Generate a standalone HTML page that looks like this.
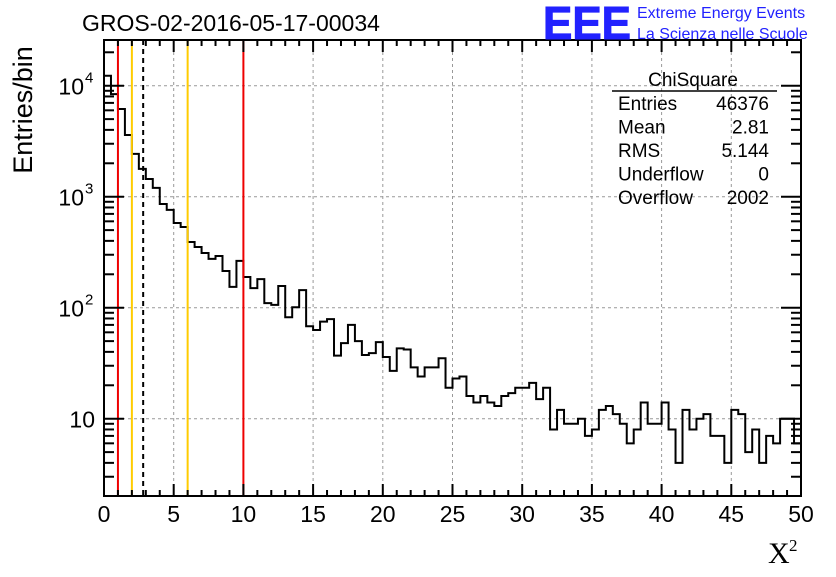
<!DOCTYPE html>
<html><head><meta charset="utf-8"><style>
body{margin:0;background:#fff;width:836px;height:572px;overflow:hidden;font-family:"Liberation Sans",sans-serif}
</style></head><body>
<svg id="c" width="836" height="572" font-family="Liberation Sans, sans-serif"></svg>
<script>
const binEdgesMin = 0, binWidth = 0.5;
const counts = [12300,8400,6170,3600,2430,1780,1445,1200,860,760,580,533,391,352,311,275,292,214,154,264,189,150,181,110,106,157,82,101,144,68,63,75,79,37,48,70,50,37.5,39,49,36,27,43,42,29,24,29,29,35,19,23,24,16,14,16,14,13,16,17,19,19,21,15,19,8,12,9,9,10,7,8,12,13,11,9,6,8,14,9,9,14,8,4,12,8,10,11,7,7,4,12,11,5,8,4,7,6,10,10,6];
const xTickLabels = [0,5,10,15,20,25,30,35,40,45,50];
const yDecades = [10,100,1000,10000];
const yTickBase = ["10","10","10","10"];
const yTickExp = ["","2","3","4"];
const redLines = [1,10];
const orangeLines = [2,6];
const meanLine = [2.81];
const statsNames = ["Entries","Mean","RMS","Underflow","Overflow"];
const statsVals = ["46376","2.81","5.144","0","2002"];

const L=104,R=801,T=40,B=496;
const X=v=>L+(v-0)/50*(R-L);
const Y=v=>418.7-(Math.log10(v)-1)*111;
const svg=document.getElementById('c');
const NS='http://www.w3.org/2000/svg';
function mk(t,a,txt,p){const e=document.createElementNS(NS,t);for(const k in a)e.setAttribute(k,a[k]);if(txt!==undefined)e.textContent=txt;(p||svg).appendChild(e);return e;}

xTickLabels.forEach(v=>{if(v>0&&v<50){const g=mk('line',{x1:X(v),x2:X(v),y1:T,y2:B,stroke:'#999','stroke-dasharray':'3,3','stroke-width':1});

}});
yDecades.forEach(v=>{const g=mk('line',{x1:L,x2:R,y1:Y(v),y2:Y(v),stroke:'#999','stroke-dasharray':'3,3','stroke-width':1});

});

let d='';
counts.forEach((c,i)=>{const x0=X(binEdgesMin+i*binWidth),x1=X(binEdgesMin+(i+1)*binWidth),y=Y(c);
d+=(i===0?`M${x0},${B}L${x0},${y}`:`L${x0},${y}`)+`L${x1},${y}`;});
d+=`L${X(50)},${B}`;
const h=mk('path',{d:d,fill:'none',stroke:'#000','stroke-width':2});



redLines.forEach(v=>{const l=mk('line',{x1:X(v),x2:X(v),y1:T,y2:B,stroke:'#e00','stroke-width':2});

});
orangeLines.forEach(v=>{const l=mk('line',{x1:X(v),x2:X(v),y1:T,y2:B,stroke:'#fc0','stroke-width':2});

});
meanLine.forEach(v=>{const l=mk('line',{x1:X(v),x2:X(v),y1:T,y2:B,stroke:'#000','stroke-width':2,'stroke-dasharray':'5,4'});

});

const f=mk('rect',{x:L,y:T,width:R-L,height:B-T,fill:'none',stroke:'#000','stroke-width':2});



for(let v=0;v<=50;v++){const len=v%5===0?12:6;
mk('line',{x1:X(v),x2:X(v),y1:B,y2:B-len,stroke:'#000','stroke-width':2});
mk('line',{x1:X(v),x2:X(v),y1:T,y2:T+len,stroke:'#000','stroke-width':2});}
xTickLabels.forEach(v=>{const t=mk('text',{x:X(v),y:522,'font-size':23,'text-anchor':'middle'},String(v));

});
for(let e=0;e<=4;e++)for(let m=1;m<=9;m++){const v=m*Math.pow(10,e);const y=Y(v);if(y<T||y>B)continue;const len=m===1?20:10;
mk('line',{x1:L,x2:L+len,y1:y,y2:y,stroke:'#000','stroke-width':2});
mk('line',{x1:R,x2:R-len,y1:y,y2:y,stroke:'#000','stroke-width':2});}
yDecades.forEach((v,i)=>{const ex=yTickExp[i];
const t=mk('text',{x:ex?84:95,y:Y(v)+9,'font-size':23,'text-anchor':'end'},yTickBase[i]);


if(ex){const s=mk('text',{x:85,y:Y(v)-3,'font-size':15},ex);

}});

let t=mk('text',{x:693,y:86,'font-size':19,'text-anchor':'middle'},'ChiSquare');


mk('line',{x1:612,x2:777,y1:91,y2:91,stroke:'#000','stroke-width':1.5});
statsNames.forEach((n,i)=>{const y=110+i*23.5;
const a=mk('text',{x:618,y:y,'font-size':19},n);


const b=mk('text',{x:769,y:y,'font-size':19,'text-anchor':'end'},statsVals[i]);

});

t=mk('text',{x:82,y:31,'font-size':23},'GROS-02-2016-05-17-00034');


t=mk('text',{x:0,y:0,'font-size':27,transform:'translate(32,110) rotate(-90)','text-anchor':'middle'},'Entries/bin');


t=mk('text',{x:768,y:563,'font-size':30,'font-family':'Liberation Serif, serif'},'X');


t=mk('text',{x:789,y:551,'font-size':17,'font-family':'Liberation Serif, serif'},'2');


t=mk('text',{x:543,y:39,'font-size':46,'font-weight':'bold',fill:'#22f',stroke:'#22f','stroke-width':1,textLength:88,lengthAdjust:'spacingAndGlyphs'},'EEE');


t=mk('text',{x:637,y:18,'font-size':16,fill:'#22f'},'Extreme Energy Events');


t=mk('text',{x:637,y:39,'font-size':16,fill:'#22f'},'La Scienza nelle Scuole');


</script>
</body></html>
